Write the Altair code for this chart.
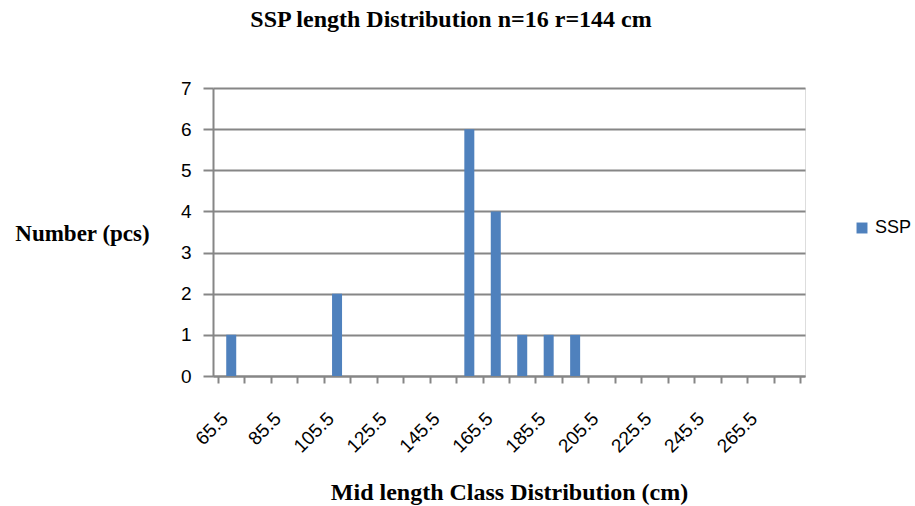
import altair as alt
import pandas as pd

mids = [65.5, 75.5, 85.5, 95.5, 105.5, 115.5, 125.5, 135.5, 145.5, 155.5, 165.5,
        175.5, 185.5, 195.5, 205.5, 215.5, 225.5, 235.5, 245.5, 255.5, 265.5, 275.5]
counts = [1, 0, 0, 0, 2, 0, 0, 0, 0, 6, 4, 1, 1, 1, 0, 0, 0, 0, 0, 0, 0, 0]
label_values = [65.5, 85.5, 105.5, 125.5, 145.5, 165.5, 185.5, 205.5, 225.5, 245.5, 265.5]
tick_values = [60.5 + 10 * i for i in range(23)]
series = "SSP"

df = pd.DataFrame({"mid": mids, "count": counts, "series": series})

GRID = "#868686"
BLUE = "#4F81BD"
SANS = "Liberation Sans"
SERIF = "Liberation Serif"

xscale = alt.Scale(domain=[60.5, 280.5], nice=False, zero=False)

bars = alt.Chart(df).mark_bar(size=10).encode(
    x=alt.X("mid:Q", scale=xscale,
            axis=alt.Axis(orient="bottom", values=label_values, ticks=False, grid=False,
                          domain=True, domainColor=GRID, domainWidth=2,
                          labelAngle=-45, labelAlign="right", labelBaseline="top",
                          labelPadding=33, labelOffset=-13, tickSize=0, labelFont=SANS,
                          labelFontSize=19,
                          labelColor="#000000", labelFlush=False, labelOverlap=False,
                          format=".1f",
                          title="Mid length Class Distribution (cm)",
                          titleFont=SERIF, titleFontSize=24, titleFontWeight="bold",
                          titleColor="#000000", titleY=116, titleBaseline="middle")),
    y=alt.Y("count:Q", scale=alt.Scale(domain=[0, 7], nice=False),
            axis=alt.Axis(values=list(range(8)), grid=True, gridColor=GRID, gridWidth=2,
                          domainColor=GRID, domainWidth=2, tickColor=GRID, tickWidth=2,
                          tickSize=10, labelFont=SANS, labelFontSize=19, labelColor="#000000",
                          labelPadding=12, format="d",
                          title="Number  (pcs)", titleAngle=0, titleFont=SERIF,
                          titleFontSize=23, titleFontWeight="bold", titleColor="#000000",
                          titleX=-131, titleY=145, titleAlign="center",
                          titleBaseline="middle")),
    color=alt.Color("series:N", scale=alt.Scale(range=[BLUE]),
                    legend=alt.Legend(title=None, orient="none", legendX=640, legendY=131,
                                      symbolType="square", symbolSize=120,
                                      symbolStrokeWidth=0, labelFont=SANS, labelOffset=4,
                                      labelFontSize=18, labelColor="#000000")),
)

ticks = alt.Chart(df).mark_point(opacity=0).encode(
    x=alt.X("mid:Q", scale=xscale,
            axis=alt.Axis(orient="bottom", values=tick_values, labels=False, grid=False,
                          domain=False, ticks=True, tickColor=GRID, tickWidth=2,
                          tickSize=7, title=None)),
    y=alt.Y("count:Q", scale=alt.Scale(domain=[0, 7], nice=False)),
)

chart = alt.layer(bars, ticks).resolve_axis(x="independent").properties(
    width=592,
    height=288,
    title=alt.TitleParams("SSP length Distribution n=16 r=144 cm", font=SERIF,
                          fontSize=24, fontWeight="bold", color="#000000",
                          anchor="middle", dx=-58, offset=47),
    autosize=alt.AutoSizeParams(type="none"),
    padding={"left": 213, "top": 88, "right": 110, "bottom": 130},
).configure_view(stroke=None).configure(background="white")

chart.save("out.html", embed_options={"renderer": "svg", "actions": False})
